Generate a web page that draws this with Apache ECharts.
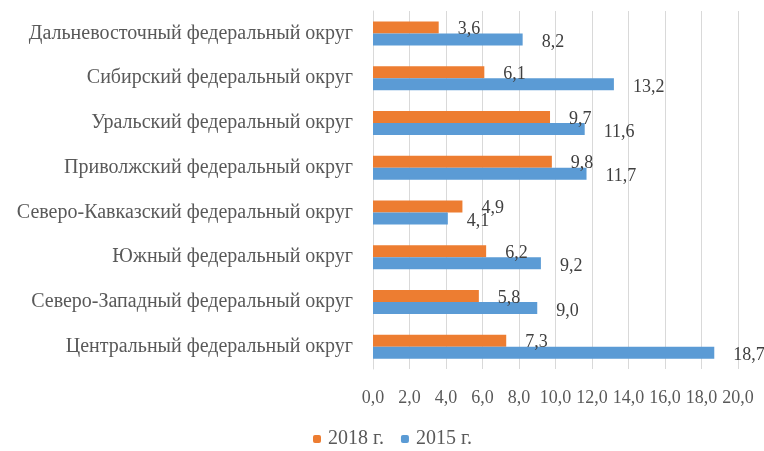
<!DOCTYPE html>
<html>
<head>
<meta charset="utf-8">
<script src="https://cdn.jsdelivr.net/npm/echarts@6/dist/echarts.min.js"></script>
<style>
	html, body { margin: 0; padding: 0; background: #fff; }
	#chart { width: 764px; height: 451px; }
</style>
</head>
<body>
<div id="chart"></div>
<script>
	// округа снизу вверх
	var regions = [
		'Центральный федеральный округ',
		'Северо-Западный федеральный округ',
		'Южный федеральный округ',
		'Северо-Кавказский федеральный округ',
		'Приволжский федеральный округ',
		'Уральский федеральный округ',
		'Сибирский федеральный округ',
		'Дальневосточный федеральный округ'
	];
	var values2018 = [7.3, 5.8, 6.2, 4.9, 9.8, 9.7, 6.1, 3.6];
	var values2015 = [18.7, 9.0, 9.2, 4.1, 11.7, 11.6, 13.2, 8.2];

	var fontName = 'Liberation Serif';
	var fmt = function (v) { return v.toFixed(1).replace('.', ','); };

	var chart = echarts.init(document.getElementById('chart'));

	var option = {
		animation: false,
		textStyle: { fontFamily: fontName },
		grid: { left: 373, right: 26, top: 11, bottom: 82 },
		legend: {
			top: 429,
			left: 313,
			padding: 0,
			itemWidth: 8,
			itemHeight: 8,
			itemGap: 17,
			data: ['2018 г.', '2015 г.'],
			textStyle: { fontFamily: fontName, fontSize: 20, color: '#595959', padding: [0, 0, 0, 2] }
		},
		xAxis: {
			type: 'value',
			min: 0,
			max: 20,
			interval: 2,
			axisLine: { show: false },
			axisTick: { show: false },
			splitLine: { lineStyle: { color: '#d9d9d9' } },
			axisLabel: {
				margin: 20,
				fontSize: 18,
				color: '#595959',
				formatter: function (v) { return fmt(v); }
			}
		},
		yAxis: {
			type: 'category',
			data: regions,
			axisLine: { lineStyle: { color: '#d9d9d9' } },
			axisTick: { show: false },
			axisLabel: { margin: 20, fontSize: 20, color: '#595959' }
		},
		series: [
			{
				name: '2018 г.',
				type: 'bar',
				data: values2018,
				barWidth: 12,
				barGap: '0%',
				itemStyle: { color: '#ED7D31' },
				label: {
					show: true,
					position: 'right',
					distance: 19,
					offset: [0, 2],
					fontSize: 18,
					color: '#404040',
					formatter: function (p) { return fmt(p.value); }
				}
			},
			{
				name: '2015 г.',
				type: 'bar',
				data: values2015,
				barWidth: 12,
				barGap: '0%',
				itemStyle: { color: '#5B9BD5' },
				label: {
					show: true,
					position: 'right',
					distance: 19,
					offset: [0, 3],
					fontSize: 18,
					color: '#404040',
					formatter: function (p) { return fmt(p.value); }
				}
			}
		]
	};

	chart.setOption(option);
</script>
</body>
</html>
